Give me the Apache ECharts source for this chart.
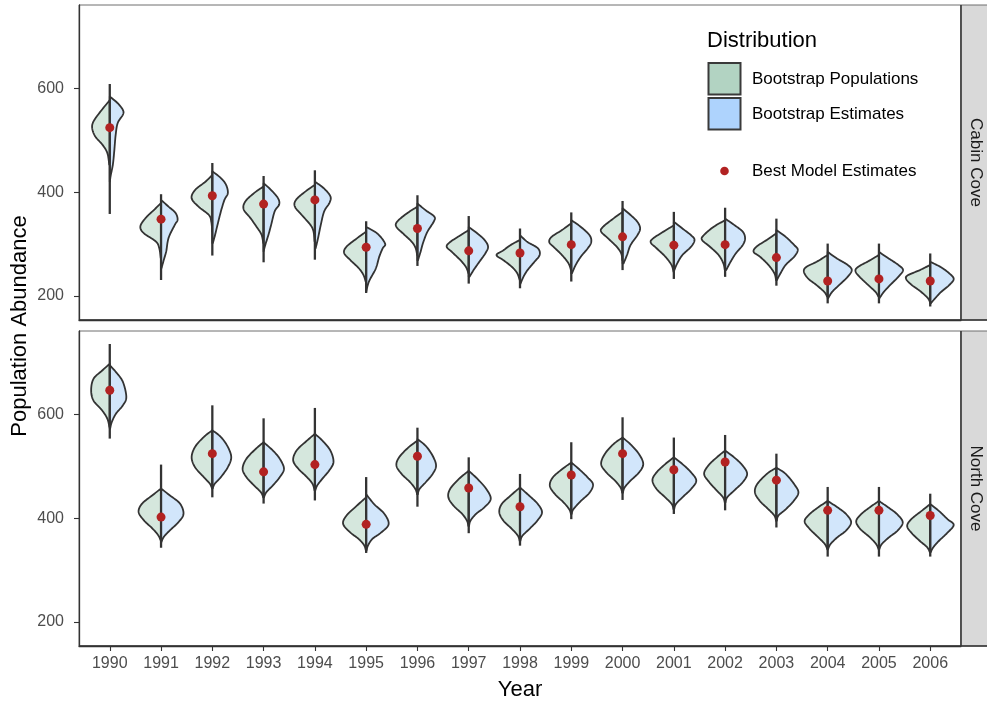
<!DOCTYPE html>
<html>
<head>
<meta charset="utf-8">
<script src="https://cdn.jsdelivr.net/npm/echarts@6/dist/echarts.min.js"></script>
<style>
  html, body { margin: 0; padding: 0; background: #ffffff; }
  #chart { width: 987px; height: 703px; }
</style>
</head>
<body>
<div id="chart"></div>
<script>
// ---- data -------------------------------------------------------------
const years = [1990, 1991, 1992, 1993, 1994, 1995, 1996, 1997, 1998, 1999,
               2000, 2001, 2002, 2003, 2004, 2005, 2006];
const coveNames = ['Cabin Cove', 'North Cove'];
const yTicks = [200, 400, 600];
const legendTitle = 'Distribution';
const legendItems = ['Bootstrap Populations', 'Bootstrap Estimates', 'Best Model Estimates'];

// full extent (min, max) of each year's bootstrap distribution
const cabinRange = [[358,608],[231,396],[278,456],[265,431],[270,442],[206,344],[258,394],[224,354],
  [215,330],[228,361],[250,383],[233,362],[237,370],[220,349],[186,301],[186,301],[180,282]];
// best model estimate per year
const cabinBest = [524,348,393,377,385,294,330,287,283,299,314,298,299,274,229,233,229];
// density profiles [abundance, density] of the bootstrap populations
const cabinPop = [
  [[577,0],[555,9],[536,15.7],[523,17],[507,14],[491,7],[475,2.3],[453,0.5]],
  [[379,0],[366,6.7],[350,15],[334,20],[321,16.7],[305,5],[292,1.7],[273,0.3]],
  [[433,0],[420,6.7],[404,16.7],[388,20],[372,13.3],[356,3.3],[343,1],[324,0]],
  [[411,0],[398,9.3],[382,17.7],[367,19.3],[350,12.7],[331,6],[318,2],[302,0.3]],
  [[414,0],[401,9.3],[385,18.3],[372,19.3],[356,12.7],[337,4.3],[324,1.3],[305,0.3]],
  [[324,0],[311,9],[295,19],[283,21.3],[270,15.7],[254,7.3],[241,2.7],[228,0.5]],
  [[372,0],[359,10.3],[343,19.7],[333,20.3],[320,13.7],[304,5.3],[292,1.7],[279,0.3]],
  [[327,0],[317,8],[304,18],[295,21.3],[285,16.3],[269,8],[256,2.7],[244,0.3]],
  [[308,0],[298,9.3],[288,16],[279,22.7],[269,16],[256,7.7],[244,2.7],[231,0.3]],
  [[340,0],[327,9],[314,19],[304,21.3],[295,17.3],[279,9],[263,2.7],[250,0.3]],
  [[362,0],[349,9],[333,19],[324,20.7],[311,14],[295,5.7],[282,1.3],[269,0.3]],
  [[336,0],[324,10],[311,20],[303,22.3],[292,16.7],[276,8.3],[260,2.3],[247,0.3]],
  [[346,0],[333,11.3],[317,20.7],[308,22.3],[295,14.7],[279,6.3],[263,1.7],[250,0.3]],
  [[321,0],[308,9.3],[295,19.3],[285,22],[276,16],[260,7.7],[244,2],[231,0.3]],
  [[279,0],[266,10.7],[256,20.7],[247,23],[234,19],[221,10.7],[208,3.3],[199,0.5]],
  [[279,0],[267,10.3],[256,20.3],[248,22.7],[237,18.7],[221,10.3],[208,3.3],[199,0.5]],
  [[260,0],[250,10],[240,21.7],[233,23.3],[222,18.3],[210,10],[197,2.7],[189,0.3]]
];
// density profiles [abundance, density] of the bootstrap estimates
const cabinEst = [
  [[584,0],[571,7.7],[558,12.7],[549,12.7],[533,7.7],[510,5.7],[478,4.3],[453,3],[433,1],[420,0]],
  [[385,0],[372,7.3],[360,14],[347,16],[337,13.3],[312,7.3],[286,5],[270,2.7],[254,0.5]],
  [[440,0],[427,8.3],[414,13.3],[398,15],[385,11.7],[363,8.3],[337,5],[318,2.7],[302,0.5]],
  [[417,0],[404,7.3],[388,14],[376,15],[363,10.7],[337,7.3],[318,4.7],[299,1.7],[286,0]],
  [[420,0],[408,8.3],[392,15],[379,14],[363,9],[337,5.7],[311,3],[292,0.7]],
  [[333,0],[320,11],[301,18.3],[292,16],[276,12.7],[253,9.3],[228,2.7],[208,0]],
  [[378,0],[365,8],[353,16.3],[343,15.7],[324,9.7],[304,5.7],[285,3],[269,0.5]],
  [[333,0],[320,8.7],[308,15.3],[295,18.7],[282,16],[266,10.3],[250,4.7],[237,0.7]],
  [[317,0],[304,7.3],[292,17.3],[279,19],[266,14],[250,7.3],[237,3.3],[224,0.5]],
  [[346,0],[333,9.3],[317,17.7],[304,19.3],[292,16],[276,9.3],[260,4.3],[244,0.7]],
  [[369,0],[356,7.7],[343,14.3],[330,17],[317,14.3],[298,7.7],[279,4.3],[263,1]],
  [[343,0],[330,8.3],[317,16.7],[308,20],[295,16.7],[279,8.3],[263,3.3],[250,0.5]],
  [[349,0],[337,8.7],[324,17],[311,19.3],[298,17],[282,10.3],[266,5.3],[250,1]],
  [[327,0],[314,9],[298,17.3],[289,20.7],[276,17.3],[260,9],[244,4],[231,0.5]],
  [[285,0],[272,9.3],[260,19.3],[250,23.3],[237,19.3],[221,11],[208,4.3],[196,0.5]],
  [[285,0],[272,9.7],[260,18.7],[250,23.3],[237,18.7],[221,10.7],[208,4.7],[196,0.5]],
  [[266,0],[256,10],[244,18.3],[233,22.7],[221,18.3],[207,10],[194,4],[186,0.5]]
];

const northRange = [[553,735],[343,503],[440,617],[428,592],[434,612],[333,479],[422,574],[371,517],
  [347,485],[398,546],[435,594],[408,555],[415,560],[382,524],[326,460],[326,460],[326,447]];
const northBest = [646,402,524,489,503,388,519,458,422,483,524,493,508,473,415,415,405];
const northPop = [
  [[697,0],[684,7.3],[668,15.7],[646,18],[626,15.7],[607,7.3],[591,2.3],[575,0.3]],
  [[457,0],[444,8.3],[428,18.3],[412,21.7],[396,16.7],[380,8.3],[367,2.7],[357,0.3]],
  [[569,0],[556,8.3],[537,16.7],[517,20],[498,16.7],[479,8.3],[466,2.3],[457,0.3]],
  [[546,0],[533,7.7],[514,16.7],[495,20.3],[479,16.7],[463,9.3],[450,2.7],[440,0.3]],
  [[562,0],[549,7.7],[530,17.7],[511,21],[495,16],[479,7.7],[466,2.3],[453,0.3]],
  [[440,0],[424,9],[405,19],[389,22.3],[373,15.7],[360,7.3],[348,2],[338,0.3]],
  [[549,0],[536,8.7],[517,17.7],[501,20.3],[485,15.3],[469,7],[456,2],[446,0.3]],
  [[491,0],[475,9.7],[456,18],[440,19.7],[424,14.7],[408,6.3],[395,1.7],[385,0.3]],
  [[459,0],[443,9.3],[427,17.7],[411,20],[395,16],[379,7.7],[366,2],[356,0.3]],
  [[507,0],[494,9],[478,18],[462,20.7],[446,15.7],[430,7.3],[417,2],[408,0.3]],
  [[555,0],[542,9],[523,17.3],[504,20.7],[488,15.7],[472,7.3],[459,2],[449,0.3]],
  [[517,0],[504,8.3],[488,16.7],[473,20.7],[456,16.7],[440,8.3],[427,2],[417,0.3]],
  [[530,0],[517,8],[501,16.3],[485,20.3],[469,15.3],[453,8],[440,2],[430,0.3]],
  [[497,0],[485,9.3],[465,18.7],[449,20.7],[433,16],[417,7.7],[405,2],[395,0.3]],
  [[433,0],[421,9],[408,17.3],[394,22.3],[379,17.3],[363,9],[350,2.7],[340,0.3]],
  [[433,0],[421,8.7],[408,17],[394,22],[379,18],[363,8.7],[350,2.7],[340,0.3]],
  [[427,0],[414,8.3],[398,18.3],[385,22.3],[372,18.3],[356,10],[344,3],[334,0.3]]
];
const northEst = [
  [[694,0],[681,6],[662,12.7],[633,16],[617,12.7],[601,6],[585,2],[572,0.3]],
  [[457,0],[444,8.3],[428,18.3],[408,21.7],[392,16.7],[376,8.3],[364,2.7],[354,0.3]],
  [[569,0],[556,8.3],[537,15],[517,18.3],[498,15],[479,8.3],[466,2.3],[457,0.3]],
  [[546,0],[530,9],[514,15.7],[495,19.7],[479,15.7],[463,9],[450,2.7],[440,0.3]],
  [[562,0],[549,7.3],[530,15],[508,18],[492,14],[476,7.3],[463,2.3],[453,0.3]],
  [[446,0],[427,7.7],[408,17.7],[388,21.7],[372,14.3],[360,6],[347,1.7],[337,0.3]],
  [[552,0],[539,8],[520,14.7],[501,18],[485,14.7],[469,8],[456,2],[446,0.3]],
  [[491,0],[475,8.7],[456,17],[437,21.3],[421,15.3],[408,7],[395,1.7],[385,0.3]],
  [[459,0],[443,9],[427,17.3],[411,21.3],[395,16.7],[379,9],[366,2.3],[356,0.3]],
  [[507,0],[494,7.7],[478,16],[465,21],[449,17.7],[433,9.3],[417,2],[408,0.3]],
  [[555,0],[542,7.7],[523,16],[504,20],[488,16],[472,7.7],[459,2],[449,0.3]],
  [[517,0],[504,8.3],[488,16.7],[472,21.7],[456,16.7],[440,8.3],[427,2],[417,0.3]],
  [[530,0],[517,8.7],[501,17],[485,21.3],[469,17],[453,8.7],[440,2],[430,0.3]],
  [[497,0],[485,9],[465,17.3],[449,21.3],[433,16.7],[417,9],[405,2],[395,0.3]],
  [[433,0],[421,9.3],[408,17.7],[392,22.7],[376,17.7],[363,9.3],[350,2.7],[340,0.3]],
  [[433,0],[421,8.7],[408,17.3],[392,23],[376,18],[363,9.7],[350,2.7],[340,0.3]],
  [[427,0],[414,8.3],[398,16.7],[387,22.7],[372,16.7],[356,8.3],[344,3],[334,0.3]]
];

// ---- appearance ---------------------------------------------------------
const FONT = '"Liberation Sans", Arial, Helvetica, sans-serif';
const COL_POP = '#d5e7dd';
const COL_EST = '#d2e6fb';
const KEY_POP = '#b2d3c2';
const KEY_EST = '#aed3fd';
const COL_OUTLINE = '#333333';
const COL_POINT = '#b22222';
const HALF_WIDTH = 0.47;          // widest half-violin, in year units
const Y_MIN = 154, Y_MAX = 760;
const X_MIN = 1989.4, X_MAX = 2006.6;

const panels = [
  { name: coveNames[0], range: cabinRange, best: cabinBest, pop: cabinPop, est: cabinEst },
  { name: coveNames[1], range: northRange, best: northBest, pop: northPop, est: northEst }
];

let maxDensity = 0;
panels.forEach(p => [p.pop, p.est].forEach(list => list.forEach(prof =>
  prof.forEach(pt => { if (pt[1] > maxDensity) maxDensity = pt[1]; }))));

// Catmull-Rom smoothing of a profile outline
function smoothOutline(pts, steps) {
  const out = [];
  const n = pts.length;
  for (let i = 0; i < n - 1; i++) {
    const p0 = pts[Math.max(i - 1, 0)], p1 = pts[i], p2 = pts[i + 1], p3 = pts[Math.min(i + 2, n - 1)];
    for (let s = 0; s < steps; s++) {
      const t = s / steps, t2 = t * t, t3 = t2 * t;
      out.push([0, 1].map(k => 0.5 * (2 * p1[k] + (-p0[k] + p2[k]) * t +
        (2 * p0[k] - 5 * p1[k] + 4 * p2[k] - p3[k]) * t2 +
        (-p0[k] + 3 * p1[k] - 3 * p2[k] + p3[k]) * t3)));
    }
  }
  out.push(pts[n - 1]);
  return out;
}

function halfViolin(api, year, profile, side, fill) {
  const cx = api.coord([year, Y_MIN])[0];
  const unit = api.size([1, 0])[0];
  const k = HALF_WIDTH * unit / maxDensity;
  const sorted = profile.slice().sort((a, b) => a[0] - b[0]);
  const pts = sorted.map(([v, d]) => [cx + side * d * k, api.coord([year, v])[1]]);
  const curve = smoothOutline(pts, 10).map(([x, y]) =>
    [side < 0 ? Math.min(x, cx) : Math.max(x, cx), y]);
  const poly = [[cx, pts[0][1]]].concat(curve, [[cx, pts[pts.length - 1][1]]]);
  return {
    type: 'polygon',
    shape: { points: poly },
    style: { fill: fill, stroke: COL_OUTLINE, lineWidth: 1.8, lineJoin: 'round' }
  };
}

function violinRenderer(panel) {
  return function (params, api) {
    const i = params.dataIndex;
    const year = years[i];
    const lo = api.coord([year, panel.range[i][0]]);
    const hi = api.coord([year, panel.range[i][1]]);
    return {
      type: 'group',
      children: [
        halfViolin(api, year, panel.pop[i], -1, COL_POP),
        halfViolin(api, year, panel.est[i], 1, COL_EST),
        {
          type: 'line',
          shape: { x1: lo[0], y1: lo[1], x2: hi[0], y2: hi[1] },
          style: { stroke: COL_OUTLINE, lineWidth: 2.3 }
        }
      ]
    };
  };
}

// ---- layout -------------------------------------------------------------
const gridLeft = 79, gridRight = 26;
const gridTops = [5, 331], gridHeight = 315;
const stripX = 961, stripW = 26;

const grids = gridTops.map(t => ({
  left: gridLeft, right: gridRight, top: t, height: gridHeight,
  show: true, borderColor: '#6f6f6f', borderWidth: 1, backgroundColor: '#ffffff'
}));

const xAxes = gridTops.map((t, g) => ({
  type: 'value', gridIndex: g, min: X_MIN, max: X_MAX,
  axisLine: { show: true, onZero: false, lineStyle: { color: COL_OUTLINE, width: 1.3 } },
  axisTick: { show: g === 1, customValues: years, length: 5, lineStyle: { color: COL_OUTLINE, width: 1.1 } },
  axisLabel: { show: g === 1, customValues: years, formatter: v => String(v),
    color: '#4d4d4d', fontSize: 16, fontFamily: FONT, margin: 10 },
  splitLine: { show: false }
}));

const yAxes = gridTops.map((t, g) => ({
  type: 'value', gridIndex: g, min: Y_MIN, max: Y_MAX,
  axisLine: { show: true, onZero: false, lineStyle: { color: COL_OUTLINE, width: 1.3 } },
  axisTick: { show: true, customValues: yTicks, length: 5, lineStyle: { color: COL_OUTLINE, width: 1.1 } },
  axisLabel: { customValues: yTicks, formatter: v => String(v),
    color: '#4d4d4d', fontSize: 16, fontFamily: FONT, margin: 15 },
  splitLine: { show: false }
}));

const series = [];
panels.forEach((p, g) => {
  series.push({
    type: 'custom', name: p.name + ' distribution', xAxisIndex: g, yAxisIndex: g,
    data: years.map((y, i) => [y, p.range[i][0], p.range[i][1]]),
    encode: { x: 0, y: [1, 2] },
    renderItem: violinRenderer(p),
    silent: true, z: 2
  });
  series.push({
    type: 'scatter', name: legendItems[2], xAxisIndex: g, yAxisIndex: g,
    data: years.map((y, i) => [y, p.best[i]]),
    symbol: 'circle', symbolSize: 9,
    itemStyle: { color: COL_POINT, opacity: 1 },
    silent: true, z: 5
  });
});

// panel strips, axis titles and legend
const graphics = [];
gridTops.forEach((t, g) => {
  graphics.push({
    type: 'rect', shape: { x: stripX, y: t, width: stripW + 4, height: gridHeight },
    style: { fill: '#d9d9d9', stroke: '#6f6f6f', lineWidth: 1 }, z: 1
  });
  graphics.push({
    type: 'line', shape: { x1: stripX, y1: t, x2: stripX, y2: t + gridHeight },
    style: { stroke: COL_OUTLINE, lineWidth: 1.4 }, z: 2
  });
  graphics.push({
    type: 'line', shape: { x1: gridLeft, y1: t + gridHeight, x2: 987, y2: t + gridHeight },
    style: { stroke: COL_OUTLINE, lineWidth: 1.4 }, z: 2
  });
  graphics.push({
    type: 'text', x: stripX + 15, y: t + gridHeight / 2, rotation: -Math.PI / 2,
    style: { text: coveNames[g], font: '17px ' + FONT, fill: '#1a1a1a',
      textAlign: 'center', textVerticalAlign: 'middle' }, z: 3
  });
});
graphics.push({
  type: 'text', x: 20, y: 326, rotation: Math.PI / 2,
  style: { text: 'Population Abundance', font: '22px ' + FONT, fill: '#000000',
    textAlign: 'center', textVerticalAlign: 'middle' }
});
graphics.push({
  type: 'text', x: 520, y: 690,
  style: { text: 'Year', font: '22px ' + FONT, fill: '#000000',
    textAlign: 'center', textVerticalAlign: 'middle' }
});
// legend
graphics.push({
  type: 'text', x: 707, y: 41,
  style: { text: legendTitle, font: '22px ' + FONT, fill: '#000000',
    textAlign: 'left', textVerticalAlign: 'middle' }, z: 10
});
[[KEY_POP, 63], [KEY_EST, 98]].forEach(([c, y], j) => {
  graphics.push({
    type: 'rect', shape: { x: 708.5, y: y, width: 32, height: 31.5 },
    style: { fill: c, stroke: '#3a3a3a', lineWidth: 2 }, z: 10
  });
  graphics.push({
    type: 'text', x: 752, y: y + 16,
    style: { text: legendItems[j], font: '17px ' + FONT, fill: '#000000',
      textAlign: 'left', textVerticalAlign: 'middle' }, z: 10
  });
});
graphics.push({
  type: 'circle', shape: { cx: 724.5, cy: 171, r: 4.3 },
  style: { fill: COL_POINT }, z: 10
});
graphics.push({
  type: 'text', x: 752, y: 171,
  style: { text: legendItems[2], font: '17px ' + FONT, fill: '#000000',
    textAlign: 'left', textVerticalAlign: 'middle' }, z: 10
});

const chart = echarts.init(document.getElementById('chart'), null, { renderer: 'canvas' });
chart.setOption({
  animation: false,
  backgroundColor: '#ffffff',
  grid: grids,
  xAxis: xAxes,
  yAxis: yAxes,
  series: series,
  graphic: { elements: graphics }
});
</script>
</body>
</html>
